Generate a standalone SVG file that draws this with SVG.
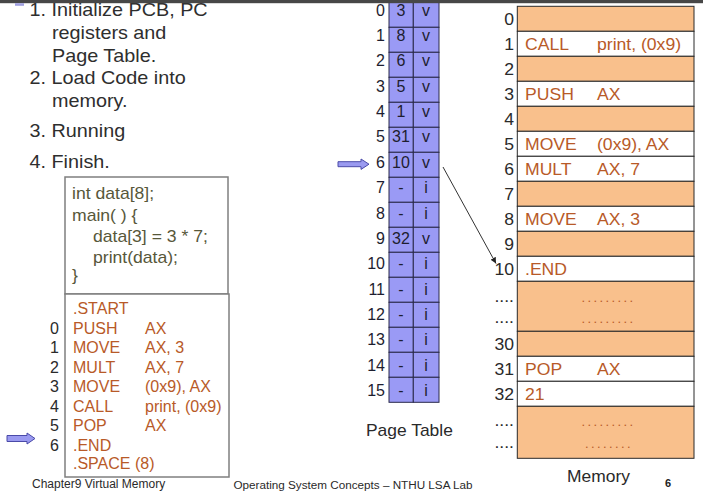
<svg xmlns="http://www.w3.org/2000/svg" width="703" height="495" viewBox="0 0 703 495">
<defs>
<style>
text{font-family:"Liberation Sans",Arial,sans-serif}
.bul{font-size:18px;fill:#2e2e2e}
.c1{font-size:16px;fill:#57573a}
.c2{font-size:16px;fill:#b85a28}
.num{font-size:16px;fill:#2a2a2a}
.pt{font-size:16px;fill:#1e1e30}
.mid{text-anchor:middle}
.end{text-anchor:end}
.box{fill:#fff;stroke:#7f7f7f;stroke-width:1.5}
.ptc{fill:#9a9af5;stroke:#2a2a4a;stroke-width:1}
.mo{fill:#f9c08c;stroke:#2a2a2a;stroke-width:1}
.mw{fill:#fff;stroke:#2a2a2a;stroke-width:1}
.dots{font-size:13px;fill:#b85a28;letter-spacing:2.4px}
.barrow{fill:#9a9af0;stroke:#4a4aa8;stroke-width:1}
.foot{font-size:12px;fill:#2a2a2a}
</style>
<marker id="ah" viewBox="0 0 10 10" refX="10" refY="5" markerWidth="6" markerHeight="6" orient="auto" markerUnits="userSpaceOnUse">
<path d="M0,0 L10,5 L0,10 z" fill="#222"/>
</marker>
</defs>
<rect width="703" height="495" fill="#fff"/>

<g id="steps">
<text class="bul" transform="translate(29.5,15.7) scale(1.1,1)">1. Initialize PCB, PC</text>
<text class="bul" transform="translate(52,38.5) scale(1.1,1)">registers and</text>
<text class="bul" transform="translate(52,62) scale(1.1,1)">Page Table.</text>
<text class="bul" transform="translate(29.5,83.5) scale(1.1,1)">2. Load Code into</text>
<text class="bul" transform="translate(52,106.5) scale(1.1,1)">memory.</text>
<text class="bul" transform="translate(29.5,137) scale(1.1,1)">3. Running</text>
<text class="bul" transform="translate(29.5,168) scale(1.1,1)">4. Finish.</text>
</g>

<g id="source-code">
<rect class="box" x="65" y="177" width="163" height="117"/>
<text class="c1" transform="translate(72,199) scale(1.1,1)">int data[8];</text>
<text class="c1" transform="translate(72,220.5) scale(1.1,1)">main( ) {</text>
<text class="c1" transform="translate(93,242) scale(1.1,1)">data[3] = 3 * 7;</text>
<text class="c1" transform="translate(93,263) scale(1.1,1)">print(data);</text>
<text class="c1" transform="translate(72,281) scale(1.1,1)">}</text>
</g>

<g id="assembly-code">
<rect class="box" x="65" y="294" width="164" height="183"/>
<text class="c2" x="73" y="314">.START</text>
<text class="num end" x="59" y="333.5">0</text><text class="c2" x="73" y="333.5">PUSH</text><text class="c2" x="145" y="333.5">AX</text>
<text class="num end" x="59" y="353">1</text><text class="c2" x="73" y="353">MOVE</text><text class="c2" x="145" y="353">AX, 3</text>
<text class="num end" x="59" y="372.5">2</text><text class="c2" x="73" y="372.5">MULT</text><text class="c2" x="145" y="372.5">AX, 7</text>
<text class="num end" x="59" y="392">3</text><text class="c2" x="73" y="392">MOVE</text><text class="c2" x="145" y="392">(0x9), AX</text>
<text class="num end" x="59" y="411.5">4</text><text class="c2" x="73" y="411.5">CALL</text><text class="c2" x="145" y="411.5">print, (0x9)</text>
<text class="num end" x="59" y="431">5</text><text class="c2" x="73" y="431">POP</text><text class="c2" x="145" y="431">AX</text>
<text class="num end" x="59" y="450.5">6</text><text class="c2" x="73" y="450.5">.END</text>
<text class="c2" x="73" y="469">.SPACE (8)</text>
</g>

<g id="pc-arrow-code">
<polygon class="barrow" points="7,435.5 27,435.5 27,433 35,438.5 27,444 27,441.5 7,441.5"/>
</g>

<g id="page-table">
<g id="pt0"><rect class="ptc" x="389" y="2.3" width="24.3" height="25"/><rect class="ptc" x="413.3" y="2.3" width="25.7" height="25"/><text class="pt end" x="385" y="15.6">0</text><text class="pt mid" x="401" y="15.6">3</text><text class="pt mid" x="426" y="15.6">v</text></g>
<g id="pt1"><rect class="ptc" x="389" y="27.3" width="24.3" height="25"/><rect class="ptc" x="413.3" y="27.3" width="25.7" height="25"/><text class="pt end" x="385" y="41">1</text><text class="pt mid" x="401" y="41">8</text><text class="pt mid" x="426" y="41">v</text></g>
<g id="pt2"><rect class="ptc" x="389" y="52.3" width="24.3" height="25"/><rect class="ptc" x="413.3" y="52.3" width="25.7" height="25"/><text class="pt end" x="385" y="66.3">2</text><text class="pt mid" x="401" y="66.3">6</text><text class="pt mid" x="426" y="66.3">v</text></g>
<g id="pt3"><rect class="ptc" x="389" y="77.3" width="24.3" height="25"/><rect class="ptc" x="413.3" y="77.3" width="25.7" height="25"/><text class="pt end" x="385" y="91.7">3</text><text class="pt mid" x="401" y="91.7">5</text><text class="pt mid" x="426" y="91.7">v</text></g>
<g id="pt4"><rect class="ptc" x="389" y="102.3" width="24.3" height="25"/><rect class="ptc" x="413.3" y="102.3" width="25.7" height="25"/><text class="pt end" x="385" y="117">4</text><text class="pt mid" x="401" y="117">1</text><text class="pt mid" x="426" y="117">v</text></g>
<g id="pt5"><rect class="ptc" x="389" y="127.3" width="24.3" height="25"/><rect class="ptc" x="413.3" y="127.3" width="25.7" height="25"/><text class="pt end" x="385" y="142.4">5</text><text class="pt mid" x="401" y="142.4">31</text><text class="pt mid" x="426" y="142.4">v</text></g>
<g id="pt6"><rect class="ptc" x="389" y="152.3" width="24.3" height="25"/><rect class="ptc" x="413.3" y="152.3" width="25.7" height="25"/><text class="pt end" x="385" y="167.8">6</text><text class="pt mid" x="401" y="167.8">10</text><text class="pt mid" x="426" y="167.8">v</text></g>
<g id="pt7"><rect class="ptc" x="389" y="177.3" width="24.3" height="25"/><rect class="ptc" x="413.3" y="177.3" width="25.7" height="25"/><text class="pt end" x="385" y="193.1">7</text><text class="pt mid" x="401" y="193.1">-</text><text class="pt mid" x="426" y="193.1">i</text></g>
<g id="pt8"><rect class="ptc" x="389" y="202.3" width="24.3" height="25"/><rect class="ptc" x="413.3" y="202.3" width="25.7" height="25"/><text class="pt end" x="385" y="218.5">8</text><text class="pt mid" x="401" y="218.5">-</text><text class="pt mid" x="426" y="218.5">i</text></g>
<g id="pt9"><rect class="ptc" x="389" y="227.3" width="24.3" height="25"/><rect class="ptc" x="413.3" y="227.3" width="25.7" height="25"/><text class="pt end" x="385" y="243.8">9</text><text class="pt mid" x="401" y="243.8">32</text><text class="pt mid" x="426" y="243.8">v</text></g>
<g id="pt10"><rect class="ptc" x="389" y="252.3" width="24.3" height="25"/><rect class="ptc" x="413.3" y="252.3" width="25.7" height="25"/><text class="pt end" x="385" y="269.2">10</text><text class="pt mid" x="401" y="269.2">-</text><text class="pt mid" x="426" y="269.2">i</text></g>
<g id="pt11"><rect class="ptc" x="389" y="277.3" width="24.3" height="25"/><rect class="ptc" x="413.3" y="277.3" width="25.7" height="25"/><text class="pt end" x="385" y="294.6">11</text><text class="pt mid" x="401" y="294.6">-</text><text class="pt mid" x="426" y="294.6">i</text></g>
<g id="pt12"><rect class="ptc" x="389" y="302.3" width="24.3" height="25"/><rect class="ptc" x="413.3" y="302.3" width="25.7" height="25"/><text class="pt end" x="385" y="319.9">12</text><text class="pt mid" x="401" y="319.9">-</text><text class="pt mid" x="426" y="319.9">i</text></g>
<g id="pt13"><rect class="ptc" x="389" y="327.3" width="24.3" height="25"/><rect class="ptc" x="413.3" y="327.3" width="25.7" height="25"/><text class="pt end" x="385" y="345.3">13</text><text class="pt mid" x="401" y="345.3">-</text><text class="pt mid" x="426" y="345.3">i</text></g>
<g id="pt14"><rect class="ptc" x="389" y="352.3" width="24.3" height="25"/><rect class="ptc" x="413.3" y="352.3" width="25.7" height="25"/><text class="pt end" x="385" y="370.6">14</text><text class="pt mid" x="401" y="370.6">-</text><text class="pt mid" x="426" y="370.6">i</text></g>
<g id="pt15"><rect class="ptc" x="389" y="377.3" width="24.3" height="25"/><rect class="ptc" x="413.3" y="377.3" width="25.7" height="25"/><text class="pt end" x="385" y="396">15</text><text class="pt mid" x="401" y="396">-</text><text class="pt mid" x="426" y="396">i</text></g>
<text class="num" transform="translate(366,435.5) scale(1.09,1)">Page Table</text>
</g>

<g id="pc-arrow-table">
<polygon class="barrow" points="338,161.7 361,161.7 361,159 369,164.2 361,169.4 361,166.7 338,166.7"/>
</g>

<g id="memory">
<g id="m0"><rect class="mo" x="517.3" y="6.3" width="176.7" height="25"/><text class="num end" transform="translate(514,25.3) scale(1.1,1)">0</text></g>
<g id="m1"><rect class="mw" x="517.3" y="31.3" width="176.7" height="25"/><text class="num end" transform="translate(514,50.3) scale(1.1,1)">1</text><text class="c2" transform="translate(525,50.3) scale(1.1,1)">CALL</text><text class="c2" transform="translate(597,50.3) scale(1.1,1)">print, (0x9)</text></g>
<g id="m2"><rect class="mo" x="517.3" y="56.3" width="176.7" height="25"/><text class="num end" transform="translate(514,75.3) scale(1.1,1)">2</text></g>
<g id="m3"><rect class="mw" x="517.3" y="81.3" width="176.7" height="25"/><text class="num end" transform="translate(514,100.3) scale(1.1,1)">3</text><text class="c2" transform="translate(525,100.3) scale(1.1,1)">PUSH</text><text class="c2" transform="translate(597,100.3) scale(1.1,1)">AX</text></g>
<g id="m4"><rect class="mo" x="517.3" y="106.3" width="176.7" height="25"/><text class="num end" transform="translate(514,125.3) scale(1.1,1)">4</text></g>
<g id="m5"><rect class="mw" x="517.3" y="131.3" width="176.7" height="25"/><text class="num end" transform="translate(514,150.3) scale(1.1,1)">5</text><text class="c2" transform="translate(525,150.3) scale(1.1,1)">MOVE</text><text class="c2" transform="translate(597,150.3) scale(1.1,1)">(0x9), AX</text></g>
<g id="m6"><rect class="mw" x="517.3" y="156.3" width="176.7" height="25"/><text class="num end" transform="translate(514,175.3) scale(1.1,1)">6</text><text class="c2" transform="translate(525,175.3) scale(1.1,1)">MULT</text><text class="c2" transform="translate(597,175.3) scale(1.1,1)">AX, 7</text></g>
<g id="m7"><rect class="mo" x="517.3" y="181.3" width="176.7" height="25"/><text class="num end" transform="translate(514,200.3) scale(1.1,1)">7</text></g>
<g id="m8"><rect class="mw" x="517.3" y="206.3" width="176.7" height="25"/><text class="num end" transform="translate(514,225.3) scale(1.1,1)">8</text><text class="c2" transform="translate(525,225.3) scale(1.1,1)">MOVE</text><text class="c2" transform="translate(597,225.3) scale(1.1,1)">AX, 3</text></g>
<g id="m9"><rect class="mo" x="517.3" y="231.3" width="176.7" height="25"/><text class="num end" transform="translate(514,249.5) scale(1.1,1)">9</text></g>
<g id="m10"><rect class="mw" x="517.3" y="256.3" width="176.7" height="25"/><text class="num end" transform="translate(514,275.3) scale(1.1,1)">10</text><text class="c2" transform="translate(525,275.3) scale(1.1,1)">.END</text></g>
<g id="m-gap1"><rect class="mo" x="517.3" y="281.3" width="176.7" height="50"/><text class="num end" transform="translate(514,301.5) scale(1.1,1)">....</text><text class="num end" transform="translate(514,322.5) scale(1.1,1)">....</text><text class="dots" x="581.5" y="301.5">.........</text><text class="dots" x="581.5" y="322.5">.........</text></g>
<g id="m30"><rect class="mo" x="517.3" y="331.3" width="176.7" height="25"/><text class="num end" transform="translate(514,350.3) scale(1.1,1)">30</text></g>
<g id="m31"><rect class="mw" x="517.3" y="356.3" width="176.7" height="25"/><text class="num end" transform="translate(514,375) scale(1.1,1)">31</text><text class="c2" transform="translate(525,375) scale(1.1,1)">POP</text><text class="c2" transform="translate(597,375) scale(1.1,1)">AX</text></g>
<g id="m32"><rect class="mw" x="517.3" y="381.3" width="176.7" height="25"/><text class="num end" transform="translate(514,400) scale(1.1,1)">32</text><text class="c2" transform="translate(525,400) scale(1.1,1)">21</text></g>
<g id="m-gap2"><rect class="mo" x="517.3" y="406.3" width="176.7" height="52"/><text class="num end" transform="translate(514,426) scale(1.1,1)">....</text><text class="num end" transform="translate(514,448) scale(1.1,1)">....</text><text class="dots" x="581.5" y="426">.........</text><text class="dots" x="585" y="448">........</text></g>
<text class="num" transform="translate(567,482) scale(1.09,1)">Memory</text>
</g>

<g id="connectors">
<line x1="443" y1="167" x2="496" y2="263.5" stroke="#333" stroke-width="1" marker-end="url(#ah)"/>
</g>

<g id="footer">
<text class="foot" x="32" y="487.5">Chapter9 Virtual Memory</text>
<text class="foot" x="233.5" y="488.5" style="font-size:11.7px">Operating System Concepts – NTHU LSA Lab</text>
<text x="665" y="486.5" style="font-size:11px;font-weight:bold;fill:#222">6</text>
</g>

<rect x="0" y="0" width="703" height="3.2" fill="#474747"/>
<rect x="15" y="3.2" width="9" height="2.6" fill="#a0a0e0"/>
</svg>
